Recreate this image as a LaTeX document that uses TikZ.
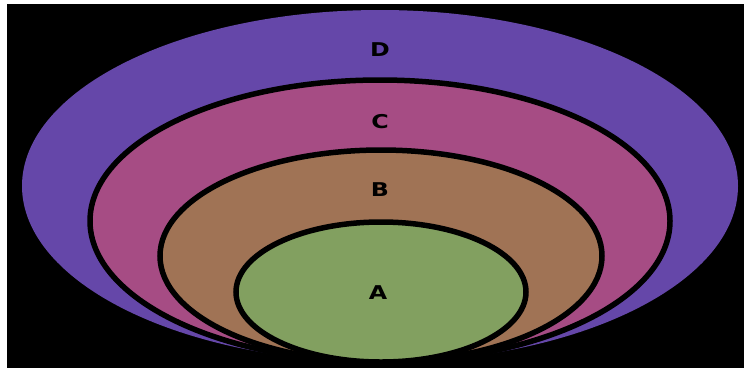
\documentclass[tikz,border=0pt]{standalone}
\usepackage{fontspec}
\newfontfamily\lblfont{DejaVu Sans}
\definecolor{cD}{HTML}{6547A9}
\definecolor{cC}{HTML}{A64C84}
\definecolor{cB}{HTML}{A07355}
\definecolor{cA}{HTML}{82A060}
\tikzset{
  ring/.style={draw=black, line width=5.5pt},
  lbl/.style={font=\lblfont\bfseries\fontsize{19}{19}\selectfont, text=black, xscale=1.25, inner sep=0pt}
}
\begin{document}
\begin{tikzpicture}[x=1pt,y=-1pt]
\useasboundingbox (0,0) rectangle (744,368);
\fill[white] (0,0) rectangle (744,368);
\fill[black] (7,4) rectangle (744,368);
% D
\fill[cD] (380,186) ellipse [x radius=358, y radius=176];
% C
\filldraw[ring, fill=cC] (380,221) ellipse [x radius=290, y radius=141];
% B
\filldraw[ring, fill=cB] (381,256) ellipse [x radius=221, y radius=106];
% A
\filldraw[ring, fill=cA] (381,292) ellipse [x radius=145, y radius=70];
\node[lbl] (lD) at (380,50) {D};
\node[lbl] (lC) at (380,122) {C};
\node[lbl] (lB) at (380,190) {B};
\node[lbl] (lA) at (378,293) {A};
\end{tikzpicture}
\end{document}
